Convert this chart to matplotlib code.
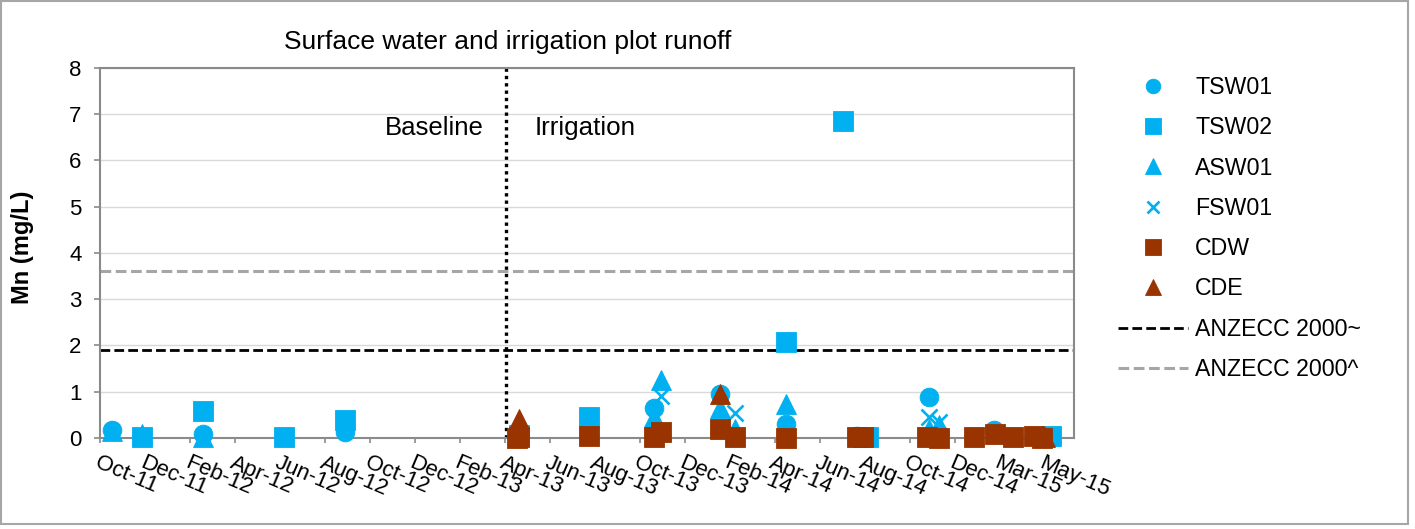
import matplotlib
matplotlib.use("Agg")
import matplotlib.pyplot as plt
import matplotlib.dates as mdates
from matplotlib.lines import Line2D
from matplotlib.patches import Rectangle
import numpy as np

plt.rcParams['font.family'] = ['Liberation Sans', 'DejaVu Sans']

# ---- x axis: date ticks every 61 days from the axis origin ----
axis_start = "2011-10-28"
tick_step_days = 61
axis_span_days = 1321
tick_labels = ["Oct-11", "Dec-11", "Feb-12", "Apr-12", "Jun-12", "Aug-12",
               "Oct-12", "Dec-12", "Feb-13", "Apr-13", "Jun-13", "Aug-13",
               "Oct-13", "Dec-13", "Feb-14", "Apr-14", "Jun-14", "Aug-14",
               "Oct-14", "Dec-14", "Mar-15", "May-15"]

irrigation_start = "2013-04-30"

# ---- Mn concentrations (mg/L) ----
tsw01_dates = ["2011-11-13", "2012-03-16", "2012-09-24", "2013-11-17", "2014-02-15",
               "2014-05-16", "2014-08-20", "2014-11-25", "2015-02-21"]
tsw01_mn = [0.17, 0.08, 0.13, 0.64, 0.95, 0.30, 0.05, 0.89, 0.18]

tsw02_dates = ["2011-12-24", "2012-03-16", "2012-07-03", "2012-09-24", "2013-05-18",
               "2013-08-21", "2014-05-16", "2014-08-01", "2014-09-04", "2015-05-10"]
tsw02_mn = [0.03, 0.58, 0.03, 0.38, 0.06, 0.45, 2.07, 6.85, 0.03, 0.05]

asw01_dates = ["2011-11-13", "2011-12-24", "2012-03-16", "2013-11-17", "2013-11-27",
               "2014-02-15", "2014-03-07", "2014-05-16", "2014-11-25", "2014-12-09"]
asw01_mn = [0.15, 0.09, 0.02, 0.45, 1.25, 0.65, 0.20, 0.74, 0.20, 0.28]

fsw01_dates = ["2013-11-27", "2014-03-07", "2014-11-25", "2014-12-09"]
fsw01_mn = [0.91, 0.53, 0.46, 0.35]

cdw_dates = ["2013-05-15", "2013-05-18", "2013-08-21", "2013-11-17", "2013-11-27",
             "2014-02-15", "2014-03-07", "2014-05-16", "2014-08-20", "2014-08-28",
             "2014-11-23", "2014-12-09", "2015-01-26", "2015-02-23", "2015-03-19",
             "2015-04-17", "2015-04-28"]
cdw_mn = [0.00, 0.03, 0.04, 0.03, 0.13, 0.20, 0.02, 0.01, 0.02, 0.02,
          0.02, 0.01, 0.02, 0.08, 0.02, 0.05, 0.01]

cde_dates = ["2013-05-18", "2014-02-15", "2015-05-02"]
cde_mn = [0.40, 0.94, 0.02]

# guideline values
anzecc_tilde = 1.9
anzecc_caret = 3.6

# ---- styling ----
CYAN = "#00B0F0"
BROWN = "#993300"
AXIS_GREY = "#8a8a8a"

series = [
    ("TSW01", tsw01_dates, tsw01_mn, dict(marker="o", ms=13.5, color=CYAN)),
    ("TSW02", tsw02_dates, tsw02_mn, dict(marker="s", ms=14, color=CYAN)),
    ("ASW01", asw01_dates, asw01_mn, dict(marker="^", ms=14, color=CYAN)),
    ("FSW01", fsw01_dates, fsw01_mn, dict(marker="x", ms=11.5, color=CYAN, mew=1.9)),
    ("CDW", cdw_dates, cdw_mn, dict(marker="s", ms=14, color=BROWN)),
    ("CDE", cde_dates, cde_mn, dict(marker="^", ms=14, color=BROWN)),
]

W, H = 1415, 529
fig = plt.figure(figsize=(W / 100, H / 100), dpi=100)
ax = fig.add_axes([100 / W, 1 - 438 / H, 974 / W, (438 - 67.7) / H])

start = np.datetime64(axis_start)
x0 = mdates.date2num(start)

handles = []
for i, (name, dates, vals, style) in enumerate(series):
    d = mdates.date2num(np.array(dates, dtype="datetime64[D]"))
    kw = dict(style)
    kw.setdefault("mew", 0.6)
    ax.plot(d, vals, linestyle="none", mec=kw["color"], zorder=3 + i,
            clip_on=False, **kw)
    hk = dict(kw)
    hk["ms"] = kw["ms"] * 0.78
    handles.append(Line2D([], [], linestyle="none", mec=kw["color"], label=name, **hk))

dash = (3.5, 1.5)
ax.axhline(anzecc_tilde, color="black", lw=2.0, dashes=dash, zorder=2)
ax.axhline(anzecc_caret, color="#a6a6a6", lw=2.2, dashes=dash, zorder=2)
handles.append(Line2D([], [], color="black", lw=2.0, dashes=dash, label="ANZECC 2000~"))
handles.append(Line2D([], [], color="#a6a6a6", lw=2.2, dashes=dash, label="ANZECC 2000^"))

# start of irrigation
irr = mdates.date2num(np.datetime64(irrigation_start))
ax.axvline(irr, color="black", lw=2.4, linestyle=(0, (1, 1.2)), zorder=2)
ax.annotate("Baseline", xy=(irr, 6.7), xytext=(-16, 0), textcoords="offset points",
            ha="right", va="center", fontsize=18.5)
ax.annotate("Irrigation", xy=(irr, 6.7), xytext=(21, 0), textcoords="offset points",
            ha="left", va="center", fontsize=18.7)

# axes
ax.set_xlim(x0, x0 + axis_span_days)
ax.set_ylim(0, 8)
ticks = x0 + np.arange(len(tick_labels)) * tick_step_days
ax.set_xticks(ticks)
ax.set_xticklabels(tick_labels, rotation=-23, ha="left", va="top",
                   rotation_mode="anchor", fontsize=16)
ax.set_yticks(range(0, 9))
ax.tick_params(axis="y", labelsize=16, length=4.3, width=1.2, color=AXIS_GREY, pad=9)
ax.tick_params(axis="x", length=3.6, width=1.2, color=AXIS_GREY, pad=7)
ax.yaxis.grid(True, color="#d9d9d9", lw=1)
ax.set_axisbelow(True)
for sp in ax.spines.values():
    sp.set_color(AXIS_GREY)
    sp.set_linewidth(1.5)

fig.text(508 / W, 1 - 42 / H, "Surface water and irrigation plot runoff",
         fontsize=19, ha="center", va="center")
fig.text(23 / W, 1 - 247 / H, "Mn (mg/L)", rotation=90, fontsize=17,
         fontweight="bold", ha="center", va="center")

fig.legend(handles=handles, loc="upper left", bbox_to_anchor=(1118 / W, 1 - 76 / H),
           frameon=False, fontsize=16.7, handlelength=3.0, handletextpad=0.33,
           labelspacing=0.745, borderaxespad=0, borderpad=0)

fig.add_artist(Rectangle((1 / W, 1 - 524 / H), 1407 / W, 523 / H,
                         transform=fig.transFigure, fill=False,
                         edgecolor="#a6a6a6", lw=1.5))

fig.savefig("out.png", dpi=100)
